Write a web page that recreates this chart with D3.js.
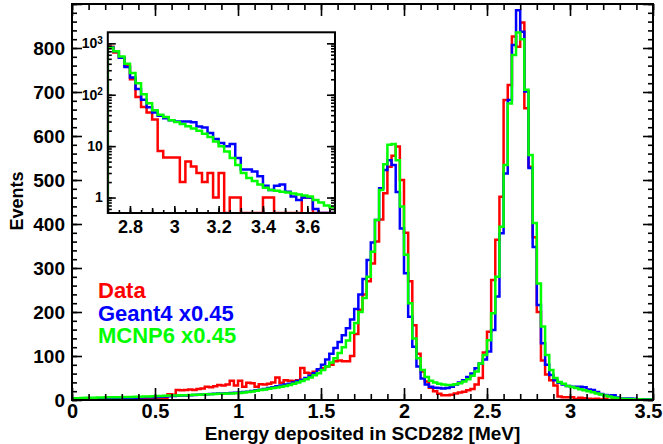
<!DOCTYPE html>
<head>
  <meta charset="utf-8">
  <script src="https://d3js.org/d3.v7.min.js"></script>
  <style>
    body { margin:0; background:#fff; }
    text { font-family: "Liberation Sans", Arial, sans-serif; font-weight: bold; fill: #000; }
    .tick line { stroke: #000; stroke-width: 1.6; }
  </style>
</head>

<body>
  <script>
    var width = 663;
    var height = 444;

    // histogram bins: 0.025 MeV wide, starting at 0 MeV (149 bins -> 3.725 MeV)
    var binWidth = 0.025;

    // Data (red)
    var dataCounts = [
      0, 1, 0, 1, 1, 0, 1, 2, 1, 1,
      2, 1, 2, 2, 1, 2, 3, 2, 2, 3,
      3, 3, 4, 13, 12, 23, 22, 23, 24, 23,
      25, 26, 30, 29, 31, 34, 33, 35, 44, 33,
      44, 30, 39, 38, 30, 36, 35, 37, 40, 51,
      39, 45, 44, 43, 45, 73, 62, 60, 64, 68,
      72, 76, 80, 88, 90, 88, 88, 100, 150, 205,
      240, 270, 310, 360, 410, 470, 530, 555, 576, 500,
      380, 270, 170, 105, 65, 42, 28, 20, 14, 11,
      11, 12, 15, 17, 19, 22, 25, 35, 50, 108,
      155, 273, 364, 462, 682, 716, 826, 803, 858, 663,
      530, 370, 200, 90, 58, 45, 33, 8, 6, 6,
      6, 2, 5, 4, 3, 2, 3, 1, 3, 0,
      1, 1, 0, 0, 0, 0, 1, 1, 0, 0,
      0, 0, 0, 1, 1, 0, 0, 0, 0
    ];

    // Geant4 x0.45 (blue)
    var geant4Counts = [
      1, 1.5, 2, 2, 2.5, 2.5, 3, 3, 3, 3.5,
      3.5, 4, 4, 4.5, 5, 5, 5.5, 6, 6, 6.5,
      7, 7.5, 8, 8.5, 9, 9.5, 10, 10.5, 11, 11.5,
      12, 12.5, 13, 13.5, 14, 14.5, 15, 15.5, 16, 16.5,
      17, 18, 19, 20.5, 22, 23.5, 25, 27, 29, 31,
      33, 35, 37, 40, 43, 46, 50, 55, 61, 70,
      80, 92, 105, 118, 132, 147, 163, 183, 207, 240,
      275, 318, 358, 409, 481, 523, 545, 534, 473, 390,
      288, 189, 121, 76, 49, 35, 30, 28, 27, 26,
      27, 30, 35, 40, 45, 52, 60, 72, 83, 92,
      110, 159, 235, 379, 515, 682, 807, 886, 837, 701,
      527, 348, 216, 129, 80, 57, 45, 39, 35, 32,
      30, 30, 30, 29, 24, 23, 18, 13.7, 11.5, 10,
      11, 5.9, 3.5, 3.5, 3.2, 2.6, 1.7, 1.4, 1.7, 1.8,
      1.3, 1.05, 0.9, 1, 1, 0.6, 0.5, 0.5, 0.5
    ];

    // MCNP6 x0.45 (green)
    var mcnp6Counts = [
      4, 4, 4.5, 5, 5, 5, 5.5, 5.5, 6, 6,
      6.5, 6.5, 7, 7, 7, 7.5, 7.5, 8, 8, 8.5,
      9, 9, 9.5, 10, 10, 10.5, 11, 11, 11.5, 12,
      12, 12.5, 13, 13, 13.5, 14, 14, 14.5, 15, 15.5,
      16, 17, 18, 19.5, 21, 22.5, 24, 25.5, 27, 28.5,
      30, 32, 34, 37, 40, 43, 47, 51, 56, 61,
      68, 76, 85, 95, 107, 120, 135, 153, 175, 200,
      232, 280, 337, 409, 477, 536, 580, 582, 545, 440,
      330, 220, 140, 95, 68, 52, 44, 40, 37, 35,
      34, 34, 36, 38, 42, 47, 55, 65, 83, 102,
      136, 197, 280, 394, 534, 674, 784, 835, 820, 705,
      557, 402, 265, 167, 102, 68, 50, 41, 37, 32,
      29.5, 27, 24.5, 22, 20, 17.5, 15, 12.3, 10, 7.9,
      5.9, 4.3, 3, 2.4, 2.1, 1.8, 1.55, 1.4, 1.35, 1.3,
      1.25, 1.2, 1.15, 1.1, 1.05, 0.9, 0.8, 0.7, 0.65
    ];

    var seriesNames = ["Data", "Geant4 x0.45", "MCNP6 x0.45"];
    var seriesColors = ["#ff0000", "#0000ff", "#00ff00"];

    var xTicks = [0, 0.5, 1, 1.5, 2, 2.5, 3, 3.5];
    var xTickLabels = ["0", "0.5", "1", "1.5", "2", "2.5", "3", "3.5"];
    var yTicks = [0, 100, 200, 300, 400, 500, 600, 700, 800, 900];
    var yTickLabels = ["0", "100", "200", "300", "400", "500", "600", "700", "800", ""];

    var insetXTicks = [2.8, 3, 3.2, 3.4, 3.6];
    var insetXTickLabels = ["2.8", "3", "3.2", "3.4", "3.6"];
    var insetYTicks = [1, 10, 100, 1000];
    var insetYTickLabels = [["1", ""], ["10", ""], ["10", "2"], ["10", "3"]];

    var svg = d3.select("body").append("svg")
      .attr("width", width)
      .attr("height", height);

    // ---- main frame
    var frame = { left: 72, right: 653, top: 4, bottom: 400 };

    var x = d3.scaleLinear().domain([0, 3.5]).range([frame.left, frame.right]);
    var y = d3.scaleLinear().domain([0, 900]).range([frame.bottom, frame.top]);

    function range(a, b, step) {
      var out = [];
      for (var v = a; v <= b + 1e-9; v += step) out.push(+v.toFixed(4));
      return out;
    }

    // step outline like ROOT "hist" drawing, from bin i0 to i1 (exclusive)
    function stepPath(counts, xs, ys, floor, i0, i1) {
      var pts = [[xs(i0 * binWidth), ys(floor)]];
      for (var i = i0; i < i1; i++) {
        pts.push([xs(i * binWidth), ys(Math.max(counts[i], floor))]);
      }
      pts.push([xs(i1 * binWidth), ys(floor)]);
      return d3.line().curve(d3.curveStepAfter)(pts);
    }

    var defs = svg.append("defs");
    defs.append("clipPath").attr("id", "mainclip").append("rect")
      .attr("x", frame.left).attr("y", frame.top)
      .attr("width", frame.right - frame.left).attr("height", frame.bottom - frame.top);

    var allSeries = [dataCounts, geant4Counts, mcnp6Counts];

    var histG = svg.append("g").attr("clip-path", "url(#mainclip)");
    allSeries.forEach(function (counts, i) {
      histG.append("path")
        .attr("d", stepPath(counts, x, y, 0, 0, counts.length))
        .attr("fill", "none")
        .attr("stroke", seriesColors[i])
        .attr("stroke-width", 2.5);
    });

    // axes (ticks pointing inward, mirrored on top/right)
    function noDomain(g) { g.select(".domain").remove(); }

    var xMinor = range(0, 3.5, 0.1);
    var yMinor = range(0, 900, 20);

    svg.append("g").attr("transform", "translate(0," + frame.bottom + ")")
      .call(d3.axisBottom(x).tickValues(xMinor).tickSize(-6).tickFormat(""))
      .call(noDomain);
    var xAxisG = svg.append("g").attr("transform", "translate(0," + frame.bottom + ")")
      .call(d3.axisBottom(x).tickValues(xTicks).tickSize(-12).tickPadding(4)
        .tickFormat(function (d, i) { return xTickLabels[i]; }))
      .call(noDomain);
    xAxisG.selectAll("text").style("font-size", "20px").attr("font-family", null)
      .attr("dx", function (d) { return d === 3.5 ? -5 : 0; });
    svg.append("g").attr("transform", "translate(0," + frame.top + ")")
      .call(d3.axisTop(x).tickValues(xMinor).tickSize(-6).tickFormat(""))
      .call(noDomain);
    svg.append("g").attr("transform", "translate(0," + frame.top + ")")
      .call(d3.axisTop(x).tickValues(xTicks).tickSize(-12).tickFormat(""))
      .call(noDomain);

    svg.append("g").attr("transform", "translate(" + frame.left + ",0)")
      .call(d3.axisLeft(y).tickValues(yMinor).tickSize(-5).tickFormat(""))
      .call(noDomain);
    svg.append("g").attr("transform", "translate(" + frame.left + ",0)")
      .call(d3.axisLeft(y).tickValues(yTicks).tickSize(-10).tickPadding(7)
        .tickFormat(function (d, i) { return yTickLabels[i]; }))
      .call(noDomain)
      .selectAll("text").style("font-size", "19px").attr("font-family", null);
    svg.append("g").attr("transform", "translate(" + frame.right + ",0)")
      .call(d3.axisRight(y).tickValues(yMinor).tickSize(-5).tickFormat(""))
      .call(noDomain);
    svg.append("g").attr("transform", "translate(" + frame.right + ",0)")
      .call(d3.axisRight(y).tickValues(yTicks).tickSize(-10).tickFormat(""))
      .call(noDomain);

    svg.append("rect")
      .attr("x", frame.left).attr("y", frame.top)
      .attr("width", frame.right - frame.left).attr("height", frame.bottom - frame.top)
      .attr("fill", "none").attr("stroke", "#000").attr("stroke-width", 2);

    // axis titles
    svg.append("text")
      .attr("x", (frame.left + frame.right) / 2).attr("y", 440)
      .attr("text-anchor", "middle").style("font-size", "19px")
      .text("Energy deposited in SCD282 [MeV]");
    svg.append("text")
      .attr("transform", "translate(23,201) rotate(-90)")
      .attr("text-anchor", "middle").style("font-size", "18px")
      .text("Events");

    // legend
    seriesNames.forEach(function (name, i) {
      svg.append("text")
        .attr("x", 98).attr("y", 298 + i * 22.5)
        .style("font-size", "22px")
        .style("fill", seriesColors[i])
        .text(name);
    });

    // ---- inset, log scale, 2.7 - 3.725 MeV
    var inset = { left: 107.8, right: 335, top: 32.3, bottom: 213 };
    var ix = d3.scaleLinear().domain([2.7, 3.725]).range([inset.left, inset.right]);
    var iy = d3.scaleLog().domain([0.5, 1640]).range([inset.bottom, inset.top]);

    svg.append("rect")
      .attr("x", inset.left).attr("y", inset.top)
      .attr("width", inset.right - inset.left).attr("height", inset.bottom - inset.top)
      .attr("fill", "#fff");

    defs.append("clipPath").attr("id", "insetclip").append("rect")
      .attr("x", inset.left).attr("y", inset.top)
      .attr("width", inset.right - inset.left).attr("height", inset.bottom - inset.top);

    var firstBin = Math.round(2.7 / binWidth);
    var insetG = svg.append("g").attr("clip-path", "url(#insetclip)");
    allSeries.forEach(function (counts, i) {
      insetG.append("path")
        .attr("d", stepPath(counts, ix, iy, 0.5, firstBin, counts.length))
        .attr("fill", "none")
        .attr("stroke", seriesColors[i])
        .attr("stroke-width", 2.5);
    });

    var iyMinor = [0.6, 0.7, 0.8, 0.9];
    [1, 10, 100, 1000].forEach(function (dec) {
      for (var m = 1; m <= 9; m++) {
        if (dec * m <= 1640) iyMinor.push(dec * m);
      }
    });

    svg.append("g").attr("transform", "translate(" + inset.left + ",0)")
      .call(d3.axisLeft(iy).tickValues(iyMinor).tickSize(-4).tickFormat(""))
      .call(noDomain);
    svg.append("g").attr("transform", "translate(" + inset.left + ",0)")
      .call(d3.axisLeft(iy).tickValues(insetYTicks).tickSize(-8).tickFormat(""))
      .call(noDomain);
    svg.append("g").attr("transform", "translate(" + inset.right + ",0)")
      .call(d3.axisRight(iy).tickValues(iyMinor).tickSize(-4).tickFormat(""))
      .call(noDomain);
    svg.append("g").attr("transform", "translate(" + inset.right + ",0)")
      .call(d3.axisRight(iy).tickValues(insetYTicks).tickSize(-8).tickFormat(""))
      .call(noDomain);

    svg.append("g").attr("transform", "translate(0," + inset.bottom + ")")
      .call(d3.axisBottom(ix).tickValues(range(2.7, 3.7, 0.05)).tickSize(-3).tickFormat(""))
      .call(noDomain);
    svg.append("g").attr("transform", "translate(0," + inset.bottom + ")")
      .call(d3.axisBottom(ix).tickValues(range(2.7, 3.7, 0.1)).tickSize(-5).tickFormat(""))
      .call(noDomain);
    svg.append("g").attr("transform", "translate(0," + inset.bottom + ")")
      .call(d3.axisBottom(ix).tickValues(insetXTicks).tickSize(-7).tickPadding(7)
        .tickFormat(function (d, i) { return insetXTickLabels[i]; }))
      .call(noDomain)
      .selectAll("text").style("font-size", "18px").attr("font-family", null);

    insetYTicks.forEach(function (v, i) {
      var t = svg.append("text")
        .attr("x", inset.left - 5).attr("y", iy(v))
        .attr("dy", "0.35em")
        .attr("text-anchor", "end")
        .style("font-size", "14px");
      t.append("tspan").text(insetYTickLabels[i][0]);
      if (insetYTickLabels[i][1]) {
        t.append("tspan").attr("dy", "-0.45em").style("font-size", "10px")
          .text(insetYTickLabels[i][1]);
      }
    });

    svg.append("rect")
      .attr("x", inset.left).attr("y", inset.top)
      .attr("width", inset.right - inset.left).attr("height", inset.bottom - inset.top)
      .attr("fill", "none").attr("stroke", "#000").attr("stroke-width", 2);
  </script>
</body>
